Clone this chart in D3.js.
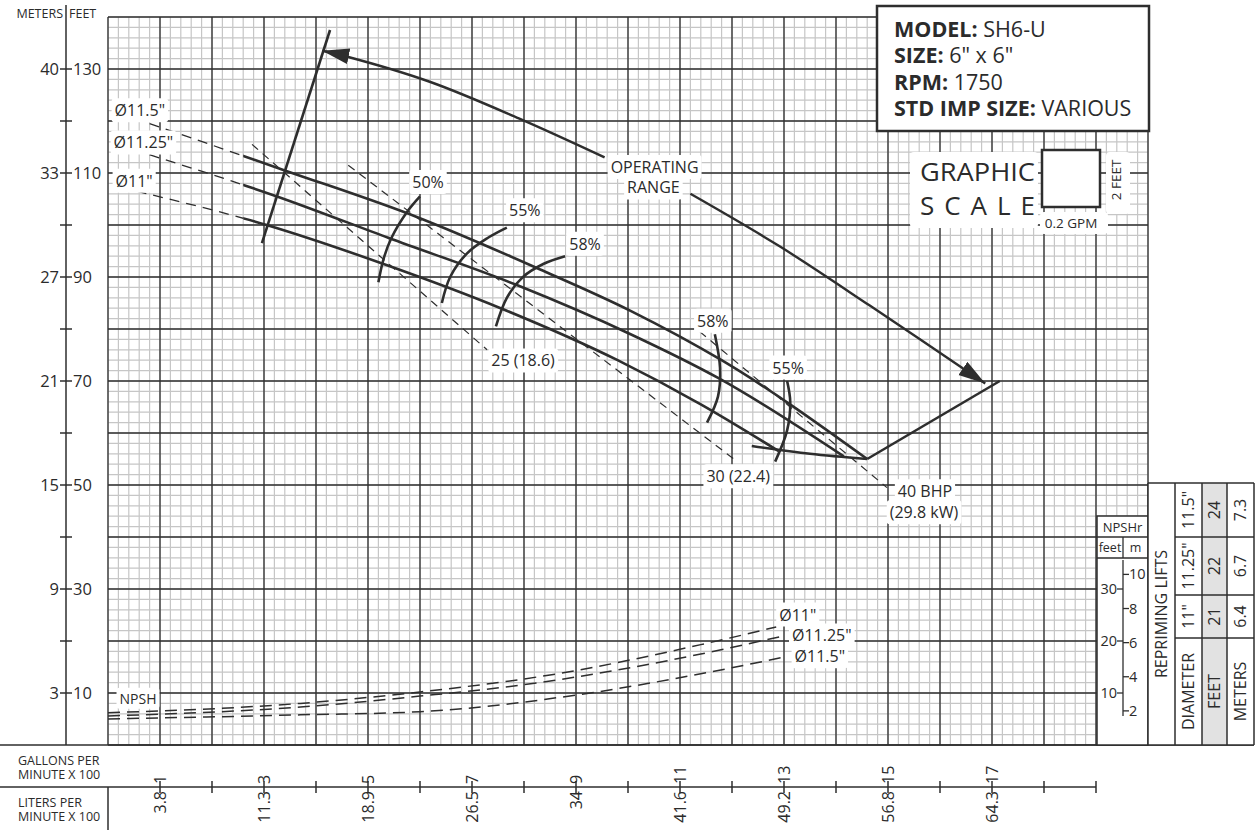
<!DOCTYPE html>
<html>
<head>
<meta charset="utf-8">
<script src="https://cdn.jsdelivr.net/npm/d3@7"></script>
<style>
  body { margin: 0; background: #fff; }
  svg { display: block; font-family: "Open Sans", "Noto Sans", sans-serif; }
  text { fill: #2b2b2b; }
</style>
</head>
<body>
<div id="chart"></div>
<script>
// ---- pump curve data, points are [gpm, head in feet] ----
const head115  = [[80,119.5],[340,110.5],[595,101.5],[830,91.5],[1005,83.5],[1180,74],[1460,55]];
const head1125 = [[80,113.5],[325,105.5],[540,97.5],[785,88.5],[1005,79],[1175,70.5],[1415,55.5]];
const head11   = [[55,106.5],[305,100],[530,92.5],[755,84],[980,74],[1140,65.5],[1290,56.5]];
const headNames = ['Ø11.5"', 'Ø11.25"', 'Ø11"'];
const solidFrom = 260; // gpm where the curves turn solid

// efficiency arcs
const eff50  = [[520,89],[530,93.5],[545,97.5],[575,102.5],[600,105.5]];
const eff55  = [[642,85],[658,90],[690,94.5],[730,97.5],[767,99.5]];
const eff58  = [[746,80.5],[767,86],[798,90],[837,92.5],[879,94]];
const eff58b = [[1167,79],[1177,72.5],[1173,67],[1152,62]];
const eff55b = [[1306,70],[1312,66],[1306,60.5],[1283,54.5]];

// bhp lines
const bhp25 = [[277,115.5],[729,76]];
const bhp30 = [[462,111.5],[1210,54.5]];
const bhp40 = [[1138,79.5],[1498,49.5]];

// operating range
const opLeft   = [[296,96.5],[427,137.5]];
const opRight  = [[1460,55],[1715,70]];
const opBottom = [[1238,57.5],[1350,56],[1460,55]];
const arrowUp   = [[955,113],[790,120.5],[620,127.5],[455,132.5],[412,133.5]];
const arrowDown = [[1120,106],[1290,96],[1465,84.5],[1687,69.5]];

// npsh curves
const npsh11   = [[0,6.2],[370,8],[600,10.2],[870,13.8],[1140,19.3],[1285,22.7]];
const npsh1125 = [[0,5.6],[370,7.3],[600,9.4],[800,11.6],[1140,17.5],[1300,21]];
const npsh115  = [[0,5],[370,5.8],[600,6.4],[900,9.6],[1140,13.7],[1305,17]];

// axis labels
const feetTicks  = [10,30,50,70,90,110,130];
const meterLabels = ['3','9','15','21','27','33','40'];
const gpmTicks   = [100,300,500,700,900,1100,1300,1500,1700];
const gpmLabels  = ['1','3','5','7','9','11','13','15','17'];
const lpmLabels  = ['3.8','11.3','18.9','26.5','34','41.6','49.2','56.8','64.3'];
const npshFeet   = [10,20,30];
const npshMeters = [2,4,6,8,10];

// repriming table
const reprimeDiam   = ['11.5"','11.25"','11"'];
const reprimeFeet   = ['24','22','21'];
const reprimeMeters = ['7.3','6.7','6.4'];

const W = 1260, H = 834;
const ink = '#2e2e2e';

const svg = d3.select('#chart').append('svg')
    .attr('width', W).attr('height', H);
svg.append('rect').attr('width', W).attr('height', H).attr('fill', '#fff');

const x = d3.scaleLinear().domain([0, 2000]).range([108, 1148]);
const y = d3.scaleLinear().domain([0, 140]).range([745, 17]);

// grid
const grid = svg.append('g');
grid.selectAll('.mx').data(d3.range(0, 2001, 20)).enter().append('line')
    .attr('x1', d => x(d)).attr('x2', d => x(d)).attr('y1', y(0)).attr('y2', y(140))
    .attr('stroke', '#c6c6c6').attr('stroke-width', 1.2);
grid.selectAll('.my').data(d3.range(0, 141, 2)).enter().append('line')
    .attr('x1', x(0)).attr('x2', x(2000)).attr('y1', d => y(d)).attr('y2', d => y(d))
    .attr('stroke', '#c6c6c6').attr('stroke-width', 1.2);
grid.selectAll('.Mx').data(d3.range(0, 2001, 100)).enter().append('line')
    .attr('x1', d => x(d)).attr('x2', d => x(d)).attr('y1', y(0)).attr('y2', y(140))
    .attr('stroke', ink).attr('stroke-width', 1.3);
grid.selectAll('.My').data(d3.range(0, 141, 10)).enter().append('line')
    .attr('x1', x(0)).attr('x2', x(2000)).attr('y1', d => y(d)).attr('y2', d => y(d))
    .attr('stroke', ink).attr('stroke-width', 1.3);

// clip paths for dashed / solid parts
const defs = svg.append('defs');
defs.append('clipPath').attr('id', 'cDash').append('rect')
    .attr('x', 0).attr('y', 0).attr('width', x(solidFrom)).attr('height', H);
defs.append('clipPath').attr('id', 'cSolid').append('rect')
    .attr('x', x(solidFrom)).attr('y', 0).attr('width', W).attr('height', H);
defs.append('marker').attr('id', 'arr')
    .attr('markerUnits', 'userSpaceOnUse')
    .attr('markerWidth', 30).attr('markerHeight', 18)
    .attr('refX', 27).attr('refY', 8).attr('orient', 'auto')
    .append('path').attr('d', 'M0,0 L27,8 L0,16 Z').attr('fill', ink);

const line = d3.line().x(d => x(d[0])).y(d => y(d[1]));
const smooth = d3.line().x(d => x(d[0])).y(d => y(d[1])).curve(d3.curveMonotoneX);
const arc = d3.line().x(d => x(d[0])).y(d => y(d[1])).curve(d3.curveCatmullRom.alpha(0.5));

const marks = svg.append('g').attr('fill', 'none').attr('stroke', ink);

// bhp dashed lines
[bhp25, bhp30, bhp40].forEach(d => {
    marks.append('path').attr('d', line(d))
        .attr('stroke-width', 1.2).attr('stroke-dasharray', '8,6');
});

// head curves
[head115, head1125, head11].forEach(d => {
    marks.append('path').attr('d', smooth(d)).attr('clip-path', 'url(#cDash)')
        .attr('stroke-width', 1.3).attr('stroke-dasharray', '10,7');
    marks.append('path').attr('d', smooth(d)).attr('clip-path', 'url(#cSolid)')
        .attr('stroke-width', 2.6);
});

// efficiency arcs
[eff50, eff55, eff58, eff58b, eff55b].forEach(d => {
    marks.append('path').attr('d', arc(d)).attr('stroke-width', 2.6);
});

// operating range
marks.append('path').attr('d', line(opLeft)).attr('stroke-width', 2.6);
marks.append('path').attr('d', line(opRight)).attr('stroke-width', 2.6);
marks.append('path').attr('d', arc(opBottom)).attr('stroke-width', 2.6);
marks.append('path').attr('d', arc(arrowUp)).attr('stroke-width', 2.4).attr('marker-end', 'url(#arr)');
marks.append('path').attr('d', arc(arrowDown)).attr('stroke-width', 2.4).attr('marker-end', 'url(#arr)');

// npsh
[npsh11, npsh1125, npsh115].forEach(d => {
    marks.append('path').attr('d', smooth(d))
        .attr('stroke-width', 1.5).attr('stroke-dasharray', '12,7');
});

// labels with white backing
const labels = svg.append('g');
function label(txt, px, py, size, anchor) {
    const g = labels.append('g');
    const t = g.append('text').attr('x', px).attr('y', py)
        .attr('font-size', size).attr('text-anchor', anchor || 'middle')
        .attr('dy', '0.35em').text(txt);
    const b = t.node().getBBox();
    g.insert('rect', 'text').attr('x', b.x - 3).attr('y', b.y - 1)
        .attr('width', b.width + 6).attr('height', b.height + 2)
        .attr('rx', 3).attr('fill', '#fff');
}
const last = a => a[a.length - 1];

label(headNames[0], x(head115[0][0]) - 35, y(head115[0][1]) - 13, 16, 'start');
label(headNames[1], x(head1125[0][0]) - 36, y(head1125[0][1]) - 12, 16, 'start');
label(headNames[2], x(head11[0][0]) - 21, y(head11[0][1]) - 10, 16, 'start');

label('50%', x(last(eff50)[0]) + 8, y(last(eff50)[1]) - 14, 16);
label('55%', x(last(eff55)[0]) + 18, y(last(eff55)[1]) - 17, 16);
label('58%', x(last(eff58)[0]) + 20, y(last(eff58)[1]) - 12, 16);
label('58%', x(eff58b[0][0]) - 2, y(eff58b[0][1]) - 13, 16);
label('55%', x(eff55b[0][0]) + 1, y(eff55b[0][1]) - 13, 16);

label('25 (18.6)', x(last(bhp25)[0]) + 36, y(last(bhp25)[1]) + 11, 16);
label('30 (22.4)', x(last(bhp30)[0]) + 1, y(last(bhp30)[1]) + 15, 16);
label('40 BHP', x(last(bhp40)[0]) + 38, y(last(bhp40)[1]) + 4, 16);
label('(29.8 kW)', x(last(bhp40)[0]) + 37, y(last(bhp40)[1]) + 25, 16);

label('OPERATING', x(arrowUp[0][0]) + 50, y(arrowUp[0][1]) + 10, 16);
label('RANGE', x(arrowDown[0][0]) - 37, y(arrowDown[0][1]) - 6, 16);

label('NPSH', x(npsh11[0][0]) + 30, y(npsh11[0][1]) - 14, 14);
label('Ø11"', x(last(npsh11)[0]) + 3, y(last(npsh11)[1]) - 12, 16, 'start');
label('Ø11.25"', x(last(npsh1125)[0]) + 8, y(last(npsh1125)[1]), 16, 'start');
label('Ø11.5"', x(last(npsh115)[0]) + 8, y(last(npsh115)[1]), 16, 'start');

// left axis
const ax = svg.append('g');
ax.append('line').attr('x1', 66).attr('x2', 66).attr('y1', 5).attr('y2', 745)
    .attr('stroke', ink).attr('stroke-width', 1.5);
ax.selectAll('.t').data(d3.range(10, 131, 10)).enter().append('line')
    .attr('x1', 60).attr('x2', 72).attr('y1', d => y(d)).attr('y2', d => y(d))
    .attr('stroke', ink).attr('stroke-width', 1.5);
ax.selectAll('.f').data(feetTicks).enter().append('text')
    .attr('x', 73).attr('y', d => y(d)).attr('dy', '0.35em')
    .attr('font-size', 16.5).text(d => d);
ax.selectAll('.m').data(feetTicks).enter().append('text')
    .attr('x', 59).attr('y', d => y(d)).attr('dy', '0.35em')
    .attr('font-size', 16.5).attr('text-anchor', 'end').text((d, i) => meterLabels[i]);
ax.append('text').attr('x', 63).attr('y', 18).attr('font-size', 12.5)
    .attr('text-anchor', 'end').text('METERS');
ax.append('text').attr('x', 69).attr('y', 18).attr('font-size', 12.5).text('FEET');

// bottom axis
const bx = svg.append('g');
bx.append('line').attr('x1', 0).attr('x2', 1254).attr('y1', 745).attr('y2', 745)
    .attr('stroke', ink).attr('stroke-width', 1.5);
bx.append('line').attr('x1', 0).attr('x2', x(1900)).attr('y1', 787).attr('y2', 787)
    .attr('stroke', ink).attr('stroke-width', 1.5);
bx.append('line').attr('x1', 108).attr('x2', 108).attr('y1', 787).attr('y2', 830)
    .attr('stroke', ink).attr('stroke-width', 1.5);
bx.selectAll('.t').data(d3.range(100, 1901, 100)).enter().append('line')
    .attr('x1', d => x(d)).attr('x2', d => x(d)).attr('y1', 781).attr('y2', 793)
    .attr('stroke', ink).attr('stroke-width', 1.5);
bx.selectAll('.g').data(gpmTicks).enter().append('text')
    .attr('transform', d => `translate(${x(d)},784) rotate(-90)`)
    .attr('dy', '0.35em').attr('font-size', 16).text((d, i) => gpmLabels[i]);
bx.selectAll('.l').data(gpmTicks).enter().append('text')
    .attr('transform', d => `translate(${x(d)},791) rotate(-90)`)
    .attr('dy', '0.35em').attr('font-size', 16).attr('text-anchor', 'end')
    .text((d, i) => lpmLabels[i]);
[['GALLONS PER', 'MINUTE X 100', 765], ['LITERS PER', 'MINUTE X 100', 807]].forEach(r => {
    const t = bx.append('text').attr('x', 18).attr('y', r[2]).attr('font-size', 12.5);
    t.append('tspan').attr('x', 18).text(r[0]);
    t.append('tspan').attr('x', 18).attr('dy', 14).text(r[1]);
});

// model box
const mb = svg.append('g');
mb.append('rect').attr('x', 877).attr('y', 6).attr('width', 272).attr('height', 125)
    .attr('fill', '#fff').attr('stroke', ink).attr('stroke-width', 2.5);
[['MODEL:', ' SH6-U'], ['SIZE:', ' 6" x 6"'], ['RPM:', ' 1750'], ['STD IMP SIZE:', ' VARIOUS']].forEach((r, i) => {
    const t = mb.append('text').attr('x', 894).attr('y', 37 + i * 26.3).attr('font-size', 21.5);
    t.append('tspan').attr('font-weight', 'bold').text(r[0]);
    t.append('tspan').text(r[1]);
});

// graphic scale
const gs = svg.append('g');
gs.append('rect').attr('x', 910).attr('y', 152).attr('width', 128).attr('height', 76).attr('rx', 4).attr('fill', '#fff');
gs.append('rect').attr('x', 1106).attr('y', 152).attr('width', 24).attr('height', 62).attr('rx', 4).attr('fill', '#fff');
gs.append('rect').attr('x', 1040).attr('y', 212).attr('width', 68).attr('height', 22).attr('rx', 4).attr('fill', '#fff');
gs.append('text').attr('x', 920).attr('y', 181).attr('font-size', 26)
    .attr('textLength', 115).attr('lengthAdjust', 'spacingAndGlyphs').text('GRAPHIC');
gs.append('text').attr('x', 920).attr('y', 215).attr('font-size', 26)
    .attr('textLength', 115).attr('lengthAdjust', 'spacing').text('SCALE');
gs.append('rect').attr('x', 1042).attr('y', 150).attr('width', 58).attr('height', 57)
    .attr('fill', '#fff').attr('stroke', ink).attr('stroke-width', 2.5);
gs.append('text').attr('transform', 'translate(1116,180) rotate(-90)')
    .attr('text-anchor', 'middle').attr('dy', '0.35em').attr('font-size', 13.5).text('2 FEET');
gs.append('text').attr('x', 1071).attr('y', 228).attr('text-anchor', 'middle')
    .attr('font-size', 13.5).text('0.2 GPM');

// npshr scale box
const nb = svg.append('g');
nb.append('rect').attr('x', 1097).attr('y', 516).attr('width', 51).attr('height', 229)
    .attr('fill', '#fff').attr('stroke', ink).attr('stroke-width', 1.5);
nb.append('line').attr('x1', 1097).attr('x2', 1148).attr('y1', 537).attr('y2', 537).attr('stroke', ink).attr('stroke-width', 1.3);
nb.append('line').attr('x1', 1097).attr('x2', 1148).attr('y1', 558).attr('y2', 558).attr('stroke', ink).attr('stroke-width', 1.3);
nb.append('line').attr('x1', 1123).attr('x2', 1123).attr('y1', 537).attr('y2', 558).attr('stroke', ink).attr('stroke-width', 1.3);
nb.append('line').attr('x1', 1123).attr('x2', 1123).attr('y1', 560).attr('y2', 716).attr('stroke', ink).attr('stroke-width', 1.3);
nb.append('text').attr('x', 1122.5).attr('y', 527).attr('dy', '0.35em').attr('text-anchor', 'middle').attr('font-size', 13).text('NPSHr');
nb.append('text').attr('x', 1110).attr('y', 548).attr('dy', '0.35em').attr('text-anchor', 'middle').attr('font-size', 12.5).text('feet');
nb.append('text').attr('x', 1135.5).attr('y', 548).attr('dy', '0.35em').attr('text-anchor', 'middle').attr('font-size', 12.5).text('m');
nb.selectAll('.ft').data(npshFeet).enter().append('line')
    .attr('x1', 1117).attr('x2', 1123).attr('y1', d => y(d)).attr('y2', d => y(d)).attr('stroke', ink).attr('stroke-width', 1.3);
nb.selectAll('.ftl').data(npshFeet).enter().append('text')
    .attr('x', 1117).attr('y', d => y(d)).attr('dy', '0.35em').attr('text-anchor', 'end').attr('font-size', 14.5).text(d => d);
nb.selectAll('.mt').data(npshMeters).enter().append('line')
    .attr('x1', 1123).attr('x2', 1129).attr('y1', d => y(d * 3.2808)).attr('y2', d => y(d * 3.2808)).attr('stroke', ink).attr('stroke-width', 1.3);
nb.selectAll('.mtl').data(npshMeters).enter().append('text')
    .attr('x', 1129).attr('y', d => y(d * 3.2808)).attr('dy', '0.35em').attr('font-size', 14.5).text(d => d);

// repriming table
const tb = svg.append('g');
const cx = [1148, 1175, 1202, 1227, 1254];
const ry = [483, 537, 595, 638, 745];
tb.append('rect').attr('x', cx[0]).attr('y', ry[0]).attr('width', cx[4] - cx[0]).attr('height', ry[4] - ry[0]).attr('fill', '#fff');
tb.append('rect').attr('x', cx[2]).attr('y', ry[0]).attr('width', cx[3] - cx[2]).attr('height', ry[4] - ry[0]).attr('fill', '#e2e2e2');
cx.forEach(v => tb.append('line').attr('x1', v).attr('x2', v).attr('y1', ry[0]).attr('y2', ry[4]).attr('stroke', ink).attr('stroke-width', 1.5));
ry.forEach((v, i) => tb.append('line').attr('x1', (i === 0 || i === 4) ? cx[0] : cx[1]).attr('x2', cx[4])
    .attr('y1', v).attr('y2', v).attr('stroke', ink).attr('stroke-width', 1.5));
function vtext(txt, px, py, size) {
    tb.append('text').attr('transform', `translate(${px},${py}) rotate(-90)`)
        .attr('text-anchor', 'middle').attr('dy', '0.35em').attr('font-size', size).text(txt);
}
vtext('REPRIMING LIFTS', (cx[0] + cx[1]) / 2, (ry[0] + ry[4]) / 2, 16);
[reprimeDiam, reprimeFeet, reprimeMeters].forEach((col, c) => {
    col.forEach((v, r) => vtext(v, (cx[c + 1] + cx[c + 2]) / 2, (ry[r] + ry[r + 1]) / 2, 16));
});
vtext('DIAMETER', (cx[1] + cx[2]) / 2, (ry[3] + ry[4]) / 2, 16);
vtext('FEET', (cx[2] + cx[3]) / 2, (ry[3] + ry[4]) / 2, 16);
vtext('METERS', (cx[3] + cx[4]) / 2, (ry[3] + ry[4]) / 2, 16);
</script>
</body>
</html>
